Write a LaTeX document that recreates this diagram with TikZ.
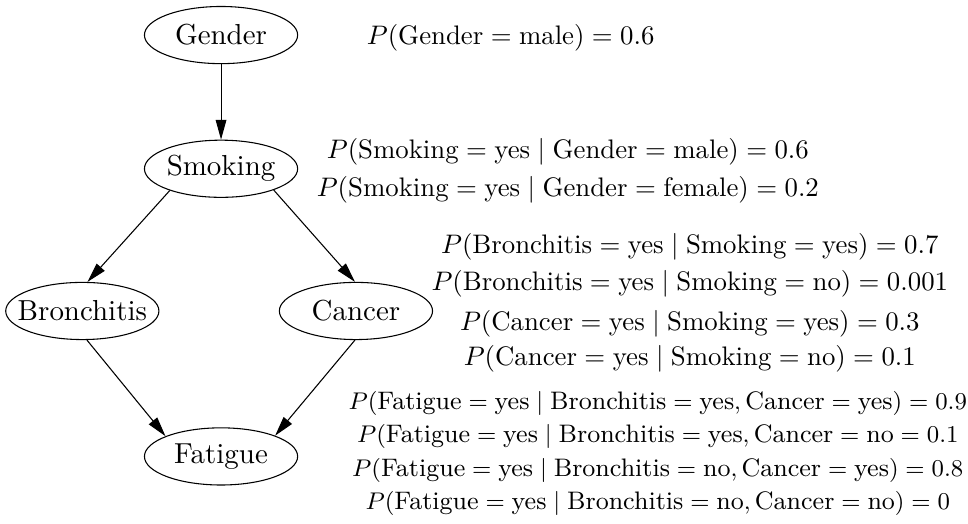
\documentclass[tikz,border=0pt]{standalone}
\usepackage{amsmath}
\usetikzlibrary{arrows.meta,positioning,shapes.geometric}

\begin{document}
\begin{tikzpicture}[
  node distance=0.99cm,
  var/.style={ellipse, draw, minimum width=2.01cm, minimum height=0.75cm,
              inner xsep=-4pt, inner ysep=0pt, font=\fontsize{10.8}{13}\selectfont},
  cpt/.style={align=center, inner sep=0pt},
  arr/.style={-{Triangle[length=0.26cm, width=0.14cm]}}
]
\useasboundingbox (0,0) rectangle (12.70,-6.87);

\node[var] (gender) at (2.90,-0.46) {Gender};
\node[var, below=of gender] (smoking) {Smoking};
\node[var] (bronchitis) at (1.08,-4.08) {Bronchitis};
\node[var] (cancer) at (4.67,-4.08) {Cancer};
\node[var, below=3.01cm of smoking] (fatigue) {Fatigue};

\draw[arr] (gender) -- (smoking);
\draw[arr] (smoking.203) -- (bronchitis.80);
\draw[arr] (smoking.338) -- (cancer.92);
\draw[arr] (bronchitis.279) -- (fatigue.160);
\draw[arr] (cancer.268) -- (fatigue.21);

% probability tables
\node[cpt] (gtab) at (6.70,-0.49) {$P(\text{Gender} = \text{male}) = 0.6$};
\node[cpt] (stab) at (7.45,-2.24) {$P(\text{Smoking} = \text{yes} \mid \text{Gender} = \text{male}) = 0.6$\\[2pt]
  $P(\text{Smoking} = \text{yes} \mid \text{Gender} = \text{female}) = 0.2$};
\node[cpt] (btab) at (9.05,-3.48) {$P(\text{Bronchitis} = \text{yes} \mid \text{Smoking} = \text{yes}) = 0.7$\\[2pt]
  $P(\text{Bronchitis} = \text{yes} \mid \text{Smoking} = \text{no}) = 0.001$};
\node[cpt] (ctab) at (9.05,-4.48) {$P(\text{Cancer} = \text{yes} \mid \text{Smoking} = \text{yes}) = 0.3$\\[1pt]
  $P(\text{Cancer} = \text{yes} \mid \text{Smoking} = \text{no}) = 0.1$};
\node[cpt, font=\fontsize{9.45}{12.4}\selectfont] (ftab) at (8.63,-5.95)
  {$P(\text{Fatigue} = \text{yes} \mid \text{Bronchitis} = \text{yes}, \text{Cancer} = \text{yes}) = 0.9$\\
  $P(\text{Fatigue} = \text{yes} \mid \text{Bronchitis} = \text{yes}, \text{Cancer} = \text{no} = 0.1$\\
  $P(\text{Fatigue} = \text{yes} \mid \text{Bronchitis} = \text{no}, \text{Cancer} = \text{yes}) = 0.8$\\
  $P(\text{Fatigue} = \text{yes} \mid \text{Bronchitis} = \text{no}, \text{Cancer} = \text{no}) = 0$};
\end{tikzpicture}
\end{document}
